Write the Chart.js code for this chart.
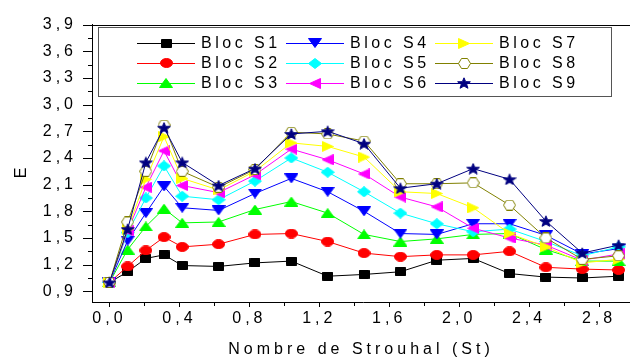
<!DOCTYPE html>
<html>
<head>
<meta charset="utf-8">
<script src="https://cdn.jsdelivr.net/npm/chart.js@4.4.0/dist/chart.umd.min.js"></script>
<style>
    html, body { margin: 0; padding: 0; background: #fff; overflow: hidden; }
    #wrap { width: 640px; height: 358px; }
</style>
</head>
<body>
<div id="wrap"><canvas id="chart" width="640" height="358"></canvas></div>
<script>
// Strouhal numbers (x)
const strouhal = [0, 0.104, 0.208, 0.312, 0.416, 0.624, 0.832, 1.04, 1.248, 1.456, 1.664, 1.872, 2.08, 2.288, 2.496, 2.704, 2.912];

// E values for each block
const blocS1 = [1.00, 1.12, 1.27, 1.31, 1.19, 1.18, 1.22, 1.24, 1.07, 1.09, 1.12, 1.25, 1.27, 1.10, 1.06, 1.05, 1.07];
const blocS2 = [1.00, 1.18, 1.36, 1.51, 1.40, 1.43, 1.54, 1.55, 1.46, 1.33, 1.29, 1.31, 1.31, 1.35, 1.17, 1.15, 1.14];
const blocS3 = [1.00, 1.37, 1.63, 1.83, 1.67, 1.68, 1.82, 1.91, 1.78, 1.54, 1.46, 1.49, 1.54, 1.55, 1.37, 1.24, 1.24];
const blocS4 = [1.00, 1.47, 1.78, 2.08, 1.84, 1.81, 2.00, 2.17, 2.02, 1.80, 1.55, 1.54, 1.66, 1.66, 1.53, 1.32, 1.38];
const blocS5 = [1.00, 1.56, 1.95, 2.31, 1.97, 1.93, 2.14, 2.40, 2.24, 2.02, 1.78, 1.66, 1.57, 1.60, 1.46, 1.30, 1.40];
const blocS6 = [1.00, 1.58, 2.07, 2.48, 2.09, 2.01, 2.21, 2.50, 2.38, 2.22, 1.96, 1.85, 1.61, 1.50, 1.42, 1.25, 1.32];
const blocS7 = [1.00, 1.60, 2.16, 2.64, 2.17, 2.04, 2.25, 2.57, 2.53, 2.41, 2.02, 2.00, 1.84, 1.55, 1.40, 1.22, 1.26];
const blocS8 = [1.00, 1.68, 2.25, 2.77, 2.25, 2.07, 2.27, 2.69, 2.67, 2.59, 2.11, 2.11, 2.12, 1.87, 1.50, 1.26, 1.30];
const blocS9 = [1.00, 1.60, 2.35, 2.74, 2.35, 2.09, 2.28, 2.67, 2.70, 2.56, 2.06, 2.11, 2.28, 2.16, 1.69, 1.33, 1.42];

const seriesNames = ['Bloc S1', 'Bloc S2', 'Bloc S3', 'Bloc S4', 'Bloc S5', 'Bloc S6', 'Bloc S7', 'Bloc S8', 'Bloc S9'];
const seriesValues = [blocS1, blocS2, blocS3, blocS4, blocS5, blocS6, blocS7, blocS8, blocS9];

// Axis ticks
const xTicks = [0, 0.4, 0.8, 1.2, 1.6, 2.0, 2.4, 2.8];
const yTicks = [0.9, 1.2, 1.5, 1.8, 2.1, 2.4, 2.7, 3.0, 3.3, 3.6, 3.9];

const FONT = '"Liberation Sans", Arial, sans-serif';

// line colour + marker look, one per series
const styles = [
    { line: '#000000', shape: 'square',  fill: '#000000', stroke: '#000000', w: 11, h: 9 },
    { line: '#ff0000', shape: 'circle',  fill: '#ff0000', stroke: '#ff0000', w: 13, h: 10 },
    { line: '#00ff00', shape: 'up',      fill: '#00ff00', stroke: '#00ff00', w: 14, h: 10 },
    { line: '#0000ff', shape: 'down',    fill: '#0000ff', stroke: '#0000ff', w: 14, h: 10 },
    { line: '#00ffff', shape: 'diamond', fill: '#00ffff', stroke: '#00ffff', w: 14, h: 11 },
    { line: '#ff00ff', shape: 'left',    fill: '#ff00ff', stroke: '#ff00ff', w: 12, h: 11 },
    { line: '#ffff00', shape: 'right',   fill: '#ffff00', stroke: '#ffff00', w: 12, h: 11 },
    { line: '#808000', shape: 'hexagon', fill: '#ffffff', stroke: '#808000', w: 13, h: 11 },
    { line: '#000080', shape: 'star',    fill: '#000080', stroke: '#000080', w: 14, h: 12 }
];

/**
 * Builds a small canvas used as a point style (Origin-like markers)
 */
function makeMarker(s) {
    const c = document.createElement('canvas');
    c.width = s.w;
    c.height = s.h;
    const g = c.getContext('2d');
    const w = s.w, h = s.h, cx = w / 2, cy = h / 2;
    g.fillStyle = s.fill;
    g.strokeStyle = s.stroke;
    g.lineWidth = 1;
    g.beginPath();
    switch (s.shape) {
        case 'square':
            g.rect(0.5, 0.5, w - 1, h - 1);
            break;
        case 'circle':
            g.ellipse(cx, cy, cx - 0.5, cy - 0.5, 0, 0, Math.PI * 2);
            break;
        case 'up':
            g.moveTo(cx, 0.5); g.lineTo(w - 0.5, h - 0.5); g.lineTo(0.5, h - 0.5);
            break;
        case 'down':
            g.moveTo(0.5, 0.5); g.lineTo(w - 0.5, 0.5); g.lineTo(cx, h - 0.5);
            break;
        case 'left':
            g.moveTo(0.5, cy); g.lineTo(w - 0.5, 0.5); g.lineTo(w - 0.5, h - 0.5);
            break;
        case 'right':
            g.moveTo(w - 0.5, cy); g.lineTo(0.5, 0.5); g.lineTo(0.5, h - 0.5);
            break;
        case 'diamond':
            g.moveTo(cx, 0.5); g.lineTo(w - 0.5, cy); g.lineTo(cx, h - 0.5); g.lineTo(0.5, cy);
            break;
        case 'hexagon':
            g.moveTo(0.5, cy); g.lineTo(w * 0.27, 0.5); g.lineTo(w * 0.73, 0.5);
            g.lineTo(w - 0.5, cy); g.lineTo(w * 0.73, h - 0.5); g.lineTo(w * 0.27, h - 0.5);
            break;
        case 'star':
            for (let k = 0; k < 10; k++) {
                const a = -Math.PI / 2 + k * Math.PI / 5;
                const r = k % 2 === 0 ? 1 : 0.42;
                const px = cx + Math.cos(a) * r * (cx - 0.3);
                const py = cy + 0.6 + Math.sin(a) * r * (cy - 0.2);
                if (k === 0) g.moveTo(px, py); else g.lineTo(px, py);
            }
            break;
    }
    g.closePath();
    g.fill();
    g.stroke();
    return c;
}

const markers = styles.map(makeMarker);

const datasets = seriesNames.map((name, i) => ({
    label: name,
    data: strouhal.map((x, j) => ({ x: x, y: seriesValues[i][j] })),
    borderColor: styles[i].line,
    backgroundColor: styles[i].fill,
    borderWidth: 1,
    pointStyle: markers[i],
    pointRadius: 5,
    tension: 0,
    fill: false,
    order: seriesNames.length - i
}));

function fmt(v) {
    return v.toFixed(1).replace('.', ',');
}

/**
 * Frame, tick marks, custom legend and axis titles
 */
const decorPlugin = {
    id: 'decor',
    beforeLayout(chart) {
        chart.ctx.letterSpacing = '4px';
    },
    beforeDraw(chart) {
        chart.ctx.letterSpacing = '4px';
    },
    afterDraw(chart) {
        const ctx = chart.ctx;
        const area = chart.chartArea;
        const xs = chart.scales.x;
        const ys = chart.scales.y;
        ctx.save();
        ctx.strokeStyle = '#000';
        ctx.lineWidth = 1;

        // top and right frame lines
        ctx.beginPath();
        ctx.moveTo(area.left, Math.round(area.top) + 0.5);
        ctx.lineTo(area.right, Math.round(area.top) + 0.5);
        ctx.moveTo(Math.round(area.right) - 0.5, area.top);
        ctx.lineTo(Math.round(area.right) - 0.5, area.bottom);
        ctx.stroke();

        // y tick marks (major + minor)
        ctx.beginPath();
        yTicks.forEach(v => {
            const py = Math.round(ys.getPixelForValue(v)) + 0.5;
            ctx.moveTo(area.left - 9, py);
            ctx.lineTo(area.left, py);
            const m = v + 0.15;
            if (m < ys.max) {
                const pm = Math.round(ys.getPixelForValue(m)) + 0.5;
                ctx.moveTo(area.left - 4, pm);
                ctx.lineTo(area.left, pm);
            }
        });
        // x tick marks (major + minor)
        xTicks.forEach(v => {
            const px = Math.round(xs.getPixelForValue(v)) + 0.5;
            ctx.moveTo(px, area.bottom);
            ctx.lineTo(px, area.bottom + 5);
            const m = v + 0.2;
            if (m < xs.max) {
                const pm = Math.round(xs.getPixelForValue(m)) + 0.5;
                ctx.moveTo(pm, area.bottom);
                ctx.lineTo(pm, area.bottom + 4);
            }
        });
        ctx.stroke();

        // legend box
        ctx.fillStyle = '#fff';
        ctx.fillRect(99, 28, 512, 69);
        ctx.strokeStyle = '#555';
        ctx.strokeRect(98.5, 27.5, 513, 69);
        ctx.font = '16px ' + FONT;
        ctx.letterSpacing = '3.5px';
        ctx.textBaseline = 'middle';
        ctx.textAlign = 'left';
        seriesNames.forEach((name, i) => {
            const col = Math.floor(i / 3);
            const row = i % 3;
            const off = col * 149;
            const ry = 43 + row * 20;
            ctx.strokeStyle = styles[i].line;
            ctx.beginPath();
            ctx.moveTo(137 + off, ry + 0.5);
            ctx.lineTo(195 + off, ry + 0.5);
            ctx.stroke();
            const mk = markers[i];
            ctx.drawImage(mk, Math.round(166 + off - mk.width / 2), Math.round(ry - mk.height / 2));
            ctx.fillStyle = '#000';
            ctx.fillText(name, 201 + off, ry + 1);
        });

        // axis titles
        ctx.fillStyle = '#000';
        ctx.letterSpacing = '4px';
        ctx.textAlign = 'center';
        ctx.textBaseline = 'alphabetic';
        ctx.fillText('Nombre de Strouhal (St)', 361, 354);
        ctx.letterSpacing = '0px';
        ctx.translate(26, 173);
        ctx.rotate(-Math.PI / 2);
        ctx.fillText('E', 0, 0);
        ctx.restore();
    }
};

new Chart(document.getElementById('chart').getContext('2d'), {
    type: 'line',
    data: { datasets: datasets },
    options: {
        responsive: false,
        animation: false,
        devicePixelRatio: 1,
        layout: { padding: { top: 20, right: 6, left: 0, bottom: 0 } },
        plugins: {
            legend: { display: false },
            tooltip: { enabled: false }
        },
        scales: {
            x: {
                type: 'linear',
                min: -0.1,
                max: 3.0,
                afterBuildTicks: axis => { axis.ticks = xTicks.map(v => ({ value: v })); },
                afterFit: scale => { scale.height = 56; },
                grid: { display: false, drawTicks: false },
                border: { display: true, color: '#000', width: 1 },
                ticks: {
                    color: '#000',
                    font: { family: FONT, size: 16 },
                    padding: 7,
                    maxRotation: 0,
                    autoSkip: false,
                    callback: v => fmt(v)
                }
            },
            y: {
                type: 'linear',
                min: 0.78,
                max: 3.9,
                afterBuildTicks: axis => { axis.ticks = yTicks.map(v => ({ value: v })); },
                afterFit: scale => { scale.width = 92; },
                grid: { display: false, drawTicks: false },
                border: { display: true, color: '#000', width: 1 },
                ticks: {
                    color: '#000',
                    font: { family: FONT, size: 16 },
                    padding: 15,
                    autoSkip: false,
                    callback: v => fmt(v)
                }
            }
        }
    },
    plugins: [decorPlugin]
});
</script>
</body>
</html>
